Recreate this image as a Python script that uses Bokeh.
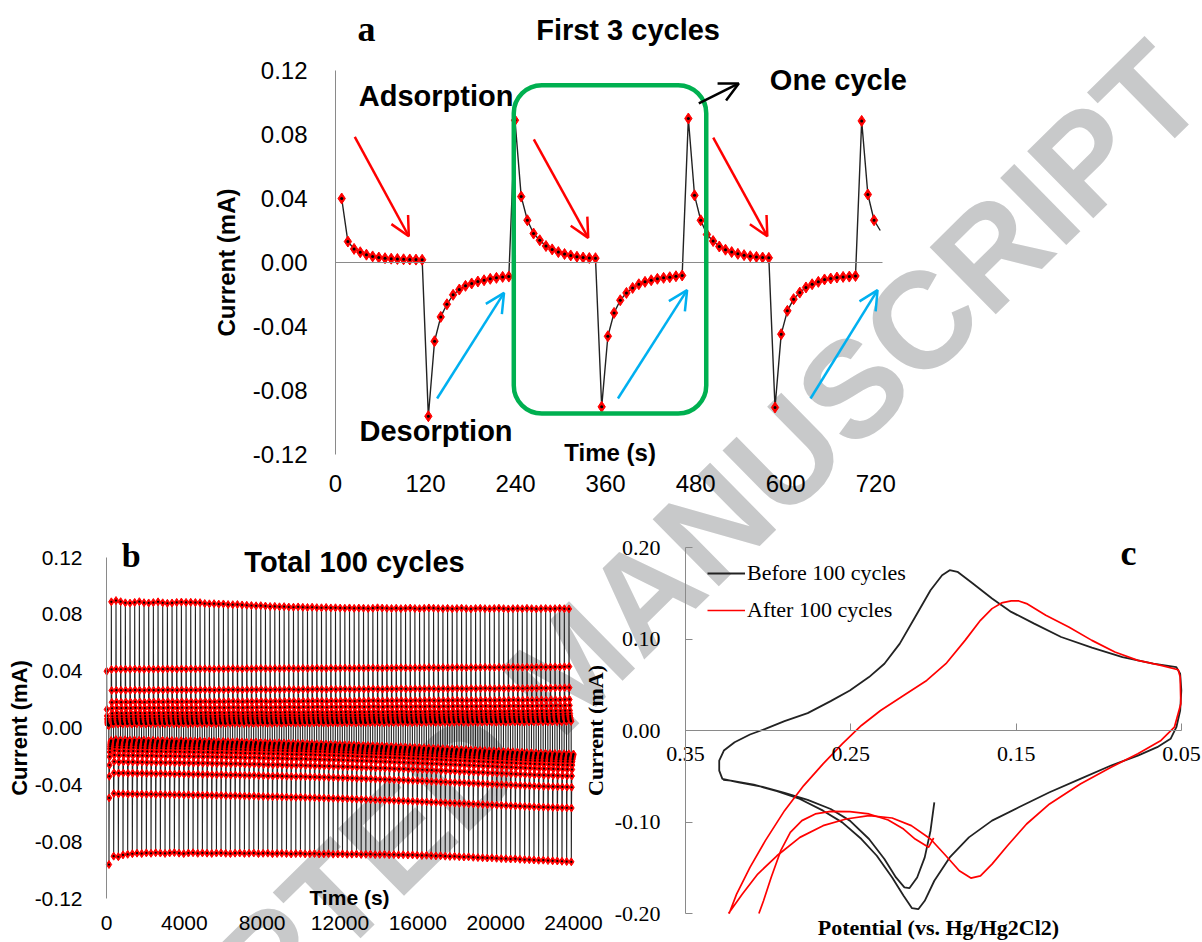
from bokeh.plotting import figure
from bokeh.models import (Range1d, FixedTicker, NumeralTickFormatter, Label, LinearAxis,
                          Arrow, OpenHead, BoxAnnotation, Legend, LegendItem)
from bokeh.embed import file_html
from bokeh.resources import INLINE

# ===================== DATA =====================
# ---- Panel a: first 3 cycles (current, mA), one reading every A_DT seconds ----
A_DT = 8.25
A_ADS_1 = [0.0400, 0.0131, 0.0085, 0.0064, 0.0049, 0.0038, 0.0031, 0.0027, 0.0024, 0.0022, 0.0020, 0.0019, 0.0018, 0.0017]
A_DES_1 = [-0.0961, -0.0492, -0.0340, -0.0261, -0.0202, -0.0169, -0.0146, -0.0131, -0.0119, -0.0111, -0.0102, -0.0096, -0.0090, -0.0088]
A_ADS_2 = [0.0889, 0.0412, 0.0264, 0.0181, 0.0139, 0.0103, 0.0082, 0.0065, 0.0053, 0.0044, 0.0036, 0.0031, 0.0028, 0.0027]
A_DES_2 = [-0.0902, -0.0461, -0.0315, -0.0236, -0.0190, -0.0159, -0.0136, -0.0121, -0.0111, -0.0102, -0.0096, -0.0092, -0.0086, -0.0081]
A_ADS_3 = [0.0900, 0.0420, 0.0264, 0.0175, 0.0134, 0.0100, 0.0080, 0.0065, 0.0054, 0.0046, 0.0039, 0.0035, 0.0031, 0.0029]
A_DES_3 = [-0.0906, -0.0448, -0.0302, -0.0229, -0.0188, -0.0156, -0.0136, -0.0121, -0.0106, -0.0100, -0.0094, -0.0090, -0.0088, -0.0084]
A_ADS_4 = [0.0885, 0.0425, 0.0264, 0.0200]
A_XTICKS = [0, 120, 240, 360, 480, 600, 720]
A_XTICK_LABELS = ["0", "120", "240", "360", "480", "600", "720"]
AB_YTICKS = [0.12, 0.08, 0.04, 0.0, -0.04, -0.08, -0.12]
AB_YTICK_LABELS = ["0.12", "0.08", "0.04", "0.00", "-0.04", "-0.08", "-0.12"]

# ---- Panel b: 100 cycles; per-cycle levels ----
B_DT = 240 / 28
B_CYCLES = 100
# adsorption peak of each cycle (the record starts just after the first peak)
B_PEAK = [None,
          0.0888, 0.0897, 0.0889, 0.0881, 0.0879, 0.0884, 0.0889, 0.0882, 0.0880, 0.0883,
          0.0888, 0.0881, 0.0878, 0.0880, 0.0884, 0.0886, 0.0884, 0.0885, 0.0883, 0.0882,
          0.0876, 0.0874, 0.0875, 0.0872, 0.0873, 0.0869, 0.0868, 0.0869, 0.0866, 0.0864,
          0.0862, 0.0860, 0.0861, 0.0858, 0.0855, 0.0856, 0.0853, 0.0854, 0.0851, 0.0850,
          0.0852, 0.0849, 0.0848, 0.0850, 0.0847, 0.0846, 0.0848, 0.0845, 0.0846, 0.0844,
          0.0843, 0.0845, 0.0842, 0.0844, 0.0843, 0.0841, 0.0843, 0.0846, 0.0844, 0.0842,
          0.0841, 0.0843, 0.0840, 0.0842, 0.0844, 0.0841, 0.0840, 0.0842, 0.0845, 0.0843,
          0.0841, 0.0840, 0.0842, 0.0839, 0.0841, 0.0843, 0.0840, 0.0838, 0.0841, 0.0842,
          0.0840, 0.0839, 0.0841, 0.0843, 0.0840, 0.0838, 0.0840, 0.0841, 0.0839, 0.0842,
          0.0840, 0.0838, 0.0840, 0.0841, 0.0839, 0.0840, 0.0842, 0.0839, 0.0838]
# last adsorption reading of each cycle
B_FLOOR = [0.0017, 0.0027, 0.0029, 0.0028, 0.0029, 0.0028, 0.0030, 0.0029, 0.0028, 0.0030,
           0.0029, 0.0030, 0.0029, 0.0031, 0.0030, 0.0029, 0.0031, 0.0030, 0.0031, 0.0030,
           0.0031, 0.0032, 0.0031, 0.0030, 0.0032, 0.0031, 0.0032, 0.0033, 0.0032, 0.0031,
           0.0033, 0.0032, 0.0033, 0.0034, 0.0033, 0.0032, 0.0034, 0.0033, 0.0034, 0.0035,
           0.0034, 0.0033, 0.0035, 0.0034, 0.0035, 0.0036, 0.0035, 0.0034, 0.0036, 0.0035,
           0.0036, 0.0037, 0.0036, 0.0035, 0.0037, 0.0036, 0.0037, 0.0038, 0.0037, 0.0036,
           0.0038, 0.0037, 0.0038, 0.0039, 0.0038, 0.0037, 0.0039, 0.0038, 0.0039, 0.0040,
           0.0039, 0.0038, 0.0040, 0.0039, 0.0040, 0.0041, 0.0040, 0.0039, 0.0041, 0.0040,
           0.0041, 0.0042, 0.0041, 0.0040, 0.0042, 0.0041, 0.0042, 0.0043, 0.0042, 0.0041,
           0.0043, 0.0042, 0.0043, 0.0044, 0.0043, 0.0044, 0.0045, 0.0044, 0.0046, 0.0047]
# desorption minimum of each cycle
B_MIN = [-0.0961, -0.0902, -0.0906, -0.0893, -0.0889, -0.0885, -0.0881, -0.0884, -0.0879, -0.0882,
         -0.0878, -0.0880, -0.0883, -0.0879, -0.0877, -0.0881, -0.0884, -0.0880, -0.0878, -0.0882,
         -0.0879, -0.0881, -0.0883, -0.0880, -0.0879, -0.0882, -0.0884, -0.0881, -0.0880, -0.0883,
         -0.0882, -0.0880, -0.0884, -0.0882, -0.0881, -0.0885, -0.0883, -0.0882, -0.0884, -0.0886,
         -0.0884, -0.0883, -0.0886, -0.0885, -0.0884, -0.0887, -0.0886, -0.0885, -0.0888, -0.0887,
         -0.0886, -0.0889, -0.0888, -0.0887, -0.0890, -0.0889, -0.0888, -0.0891, -0.0890, -0.0889,
         -0.0892, -0.0891, -0.0893, -0.0892, -0.0894, -0.0893, -0.0895, -0.0897, -0.0896, -0.0898,
         -0.0900, -0.0899, -0.0902, -0.0904, -0.0903, -0.0906, -0.0908, -0.0907, -0.0910, -0.0912,
         -0.0913, -0.0915, -0.0914, -0.0917, -0.0919, -0.0920, -0.0922, -0.0921, -0.0924, -0.0926,
         -0.0927, -0.0929, -0.0931, -0.0930, -0.0933, -0.0935, -0.0936, -0.0938, -0.0940, -0.0942]
# last desorption reading of each cycle
B_TAIL = [-0.0088, -0.0081, -0.0084, -0.0083, -0.0085, -0.0084, -0.0086, -0.0085, -0.0087, -0.0086,
          -0.0088, -0.0087, -0.0089, -0.0088, -0.0090, -0.0089, -0.0091, -0.0090, -0.0092, -0.0091,
          -0.0093, -0.0092, -0.0094, -0.0095, -0.0094, -0.0096, -0.0097, -0.0096, -0.0098, -0.0099,
          -0.0100, -0.0099, -0.0101, -0.0102, -0.0103, -0.0104, -0.0103, -0.0105, -0.0106, -0.0107,
          -0.0108, -0.0107, -0.0109, -0.0110, -0.0111, -0.0112, -0.0113, -0.0114, -0.0115, -0.0116,
          -0.0117, -0.0118, -0.0119, -0.0121, -0.0122, -0.0123, -0.0124, -0.0126, -0.0127, -0.0128,
          -0.0129, -0.0131, -0.0132, -0.0133, -0.0135, -0.0136, -0.0137, -0.0139, -0.0140, -0.0142,
          -0.0143, -0.0145, -0.0146, -0.0148, -0.0149, -0.0151, -0.0152, -0.0154, -0.0155, -0.0157,
          -0.0158, -0.0160, -0.0161, -0.0163, -0.0164, -0.0166, -0.0167, -0.0169, -0.0170, -0.0172,
          -0.0173, -0.0175, -0.0176, -0.0177, -0.0178, -0.0179, -0.0180, -0.0181, -0.0182, -0.0183]
B_XTICKS = [0, 4000, 8000, 12000, 16000, 20000, 24000]
B_XTICK_LABELS = ["0", "4000", "8000", "12000", "16000", "20000", "24000"]

# ---- Panel c: cyclic voltammograms (potential V, current mA) ----
C_BEFORE_E = [0.1995, 0.2018, 0.2053, 0.2099, 0.2146, 0.2176, 0.2227, 0.2297, 0.2390, 0.2506, 0.2622, 0.2761,
              0.2901, 0.3040, 0.3179, 0.3277, 0.3296, 0.3296, 0.3268, 0.3203, 0.3110, 0.3017, 0.2901, 0.2761,
              0.2622, 0.2506, 0.2390, 0.2297, 0.2204, 0.2111, 0.2018, 0.1948, 0.1902, 0.1855, 0.1762, 0.1646,
              0.1530, 0.1391, 0.1228, 0.1042, 0.0857, 0.0671, 0.0531, 0.0508, 0.0501, 0.0508, 0.0531, 0.0566,
              0.0647, 0.0764, 0.0926, 0.1112, 0.1298, 0.1484, 0.1646, 0.1786, 0.1902, 0.1995, 0.2053, 0.2092,
              0.2130, 0.2181, 0.2250, 0.2343, 0.2436, 0.2552, 0.2668, 0.2808, 0.2947, 0.3087, 0.3226, 0.3272]
C_BEFORE_I = [-0.0785, -0.1095, -0.1387, -0.1606, -0.1723, -0.1715, -0.1606, -0.1405, -0.1186, -0.0985, -0.0858, -0.0759,
              -0.0682, -0.0613, -0.0566, -0.0529, -0.0438, -0.0328, -0.0219, -0.0128, -0.0044, 0.0018, 0.0102, 0.0190,
              0.0321, 0.0438, 0.0584, 0.0730, 0.0949, 0.1241, 0.1533, 0.1697, 0.1752, 0.1734, 0.1606, 0.1442,
              0.1296, 0.1168, 0.1022, 0.0905, 0.0803, 0.0730, 0.0693, 0.0620, 0.0438, 0.0219, 0.0036, -0.0091,
              -0.0182, -0.0274, -0.0383, -0.0529, -0.0675, -0.0839, -0.0985, -0.1168, -0.1387, -0.1642, -0.1861, -0.1953,
              -0.1942, -0.1807, -0.1606, -0.1369, -0.1186, -0.1004, -0.0876, -0.0748, -0.0664, -0.0591, -0.0547, -0.0540]
C_AFTER1_E = [0.1999, 0.2030, 0.2111, 0.2181, 0.2274, 0.2390, 0.2506, 0.2622, 0.2715, 0.2796, 0.2866, 0.2924,
              0.2982, 0.3028, 0.3056]
C_AFTER1_I = [-0.1175, -0.1277, -0.1186, -0.1077, -0.0978, -0.0912, -0.0887, -0.0883, -0.0912, -0.0985, -0.1113, -0.1314,
              -0.1606, -0.1861, -0.2000]
C_AFTER2_E = [0.3240, 0.3156, 0.3063, 0.2947, 0.2808, 0.2668, 0.2529, 0.2390, 0.2250, 0.2134, 0.2018,
              0.1925, 0.1844, 0.1774, 0.1716, 0.1646, 0.1553, 0.1437, 0.1298, 0.1112, 0.0926, 0.0764, 0.0624,
              0.0543, 0.0504, 0.0508, 0.0520, 0.0624, 0.0764, 0.0903, 0.1042, 0.1182, 0.1321, 0.1437, 0.1484,
              0.1530, 0.1588, 0.1646, 0.1716, 0.1809, 0.1925, 0.2041, 0.2181, 0.2320, 0.2436, 0.2552, 0.2668,
              0.2785, 0.2901, 0.3017, 0.3110, 0.3191, 0.3236]
C_AFTER2_I = [-0.2000, -0.1788, -0.1569, -0.1369, -0.1168, -0.1040, -0.0967, -0.0931, -0.0956, -0.1040, -0.1186,
              -0.1369, -0.1533, -0.1613, -0.1588, -0.1460, -0.1259, -0.1022, -0.0803, -0.0584, -0.0401, -0.0255, -0.0109,
              0.0036, 0.0292, 0.0584, 0.0664, 0.0712, 0.0766, 0.0858, 0.0985, 0.1131, 0.1259, 0.1387, 0.1416,
              0.1416, 0.1394, 0.1332, 0.1204, 0.0985, 0.0730, 0.0547, 0.0383, 0.0219, 0.0055, -0.0146, -0.0365,
              -0.0602, -0.0876, -0.1204, -0.1496, -0.1788, -0.2000]
C_XTICKS = [0.35, 0.25, 0.15, 0.05]
C_XTICK_LABELS = ["0.35", "0.25", "0.15", "0.05"]
C_YTICKS = [0.20, 0.10, 0.0, -0.10, -0.20]
C_YTICK_LABELS = ["0.20", "0.10", "0.00", "-0.10", "-0.20"]
C_SERIES = ["Before 100 cycles", "After 100 cycles"]

# ===================== STYLE / LAYOUT =====================
SANS = "Liberation Sans"
SERIF = "Liberation Serif"
AXIS_GRAY = "#8a8a8a"
LINE_BLACK = "#222222"
RED = "#ff0000"
BLUE = "#00b0f0"
GREEN = "#00b050"
WM_COLOR = "#c8c9ca"

PAGE_W, PAGE_H = 1202, 942
# plot boxes in page pixels (left, right, top, bottom) and the data they span
A_BOX, A_XR, A_YR = (335, 882, 70, 454), (0, 729), (-0.12, 0.12)
B_BOX, B_XR, B_YR = (106, 580, 557, 898), (0, 24360), (-0.12, 0.12)
C_BOX, C_XR, C_YR = (685, 1181, 547, 913), (0.35, 0.05), (-0.20, 0.20)
BOXES = {"a": (A_BOX, A_XR, A_YR), "b": (B_BOX, B_XR, B_YR), "c": (C_BOX, C_XR, C_YR)}
BASELINE_LIFT = 0.33   # em; aligns Bokeh's text baseline with the reference

# watermark (page pixels)
WM_X, WM_Y, WM_ANGLE, WM_SIZE = 570, 665, 44.5, 137


def page_ranges(box, xr, yr):
    """Ranges that place the data span xr/yr exactly on box, for a frame covering the page."""
    l, r, t, b = box
    sx = (xr[1] - xr[0]) / (r - l)
    sy = (yr[1] - yr[0]) / (b - t)
    x_start = xr[0] + (0 - l) * sx
    x_end = xr[0] + (PAGE_W - l) * sx
    y_end = yr[1] + t * sy
    y_start = yr[1] - (PAGE_H - t) * sy
    return Range1d(x_start, x_end), Range1d(y_start, y_end)


p = figure(width=PAGE_W, height=PAGE_H, x_range=Range1d(0, PAGE_W), y_range=Range1d(PAGE_H, 0),
           output_backend="svg", toolbar_location=None, x_axis_location=None, y_axis_location=None,
           min_border=0, min_border_left=0, min_border_right=0, min_border_top=0, min_border_bottom=0)
p.outline_line_color = None
p.xgrid.visible = False
p.ygrid.visible = False
p.background_fill_color = "white"
p.border_fill_color = "white"

for key, (box, xr, yr) in BOXES.items():
    rx, ry = page_ranges(box, xr, yr)
    p.extra_x_ranges[key + "x"] = rx
    p.extra_y_ranges[key + "y"] = ry

# watermark behind everything
p.add_layout(Label(x=WM_X, y=WM_Y, text="ACCEPTED MANUSCRIPT", angle=WM_ANGLE, angle_units="deg",
                   text_align="center", text_baseline="middle", text_font=SANS, text_font_style="bold",
                   text_font_size=f"{WM_SIZE}px", text_color=WM_COLOR, level="underlay"))


def axis(panel, side, loc, bounds, ticks, labels, font, size, standoff, line=True, tick_in=0,
         title=None, title_size=None, title_standoff=0, fmt=None):
    ax = LinearAxis(x_range_name=panel + "x", y_range_name=panel + "y", fixed_location=loc, bounds=bounds)
    ax.ticker = FixedTicker(ticks=ticks)
    if fmt:
        ax.formatter = NumeralTickFormatter(format=fmt)
    if labels:
        ax.major_label_overrides = {t: s for t, s in zip(ticks, labels)}
    ax.axis_line_color = AXIS_GRAY if line else None
    ax.axis_line_width = 1
    ax.major_tick_out = 0
    ax.major_tick_in = tick_in
    ax.major_tick_line_color = AXIS_GRAY if tick_in else None
    ax.minor_tick_line_color = None
    ax.major_label_standoff = standoff
    ax.major_label_text_font = font
    ax.major_label_text_font_size = f"{size}px"
    ax.major_label_text_color = "black"
    if title:
        ax.axis_label = title
        ax.axis_label_text_font = font
        ax.axis_label_text_font_style = "bold"
        ax.axis_label_text_font_size = f"{title_size}px"
        ax.axis_label_text_color = "black"
        ax.axis_label_standoff = title_standoff
    p.add_layout(ax, side)
    return ax


def text(panel, x, y, s, size, font=SANS, bold=True, align="left", lift=BASELINE_LIFT):
    box, xr, yr = BOXES[panel]
    data_per_px = (yr[1] - yr[0]) / (box[3] - box[2])
    p.add_layout(Label(x=x, y=y + lift * size * data_per_px, text=s,
                       x_range_name=panel + "x", y_range_name=panel + "y",
                       text_font=font, text_font_size=f"{size}px",
                       text_font_style="bold" if bold else "normal", text_color="black",
                       text_align=align, text_baseline="alphabetic"))


# ===================== PANEL A =====================
axis("a", "below", 0, A_XR, [], None, SANS, 24, 0)                     # zero line
axis("a", "below", -0.12, (0, 720), A_XTICKS, A_XTICK_LABELS, SANS, 24, 20, line=False)
axis("a", "left", 0, (-0.12, 0.12), AB_YTICKS, AB_YTICK_LABELS, SANS, 24, 28,
     title="Current (mA)", title_size=24, title_standoff=10, fmt="0.00")

a_vals = A_ADS_1 + A_DES_1 + A_ADS_2 + A_DES_2 + A_ADS_3 + A_DES_3 + A_ADS_4
a_t = [(i + 1) * A_DT for i in range(len(a_vals))]
p.line(a_t, a_vals, line_color=LINE_BLACK, line_width=1.4, x_range_name="ax", y_range_name="ay")
p.scatter(a_t[:-1], a_vals[:-1], marker="diamond", size=11, fill_color=RED, line_color=RED,
          x_range_name="ax", y_range_name="ay")
p.scatter(a_t[:-1], a_vals[:-1], marker="circle", size=3, fill_color="black", line_color=None,
          x_range_name="ax", y_range_name="ay")

p.add_layout(BoxAnnotation(left=237.6, right=494.1, bottom=-0.0944, top=0.1108, fill_alpha=0,
                           fill_color=None, line_color=GREEN, line_alpha=1, line_width=4.5, border_radius=28,
                           x_range_name="ax", y_range_name="ay"))
for (x0, y0, x1, y1) in [(25.7, 0.0785, 97.7, 0.0164), (264.3, 0.0769, 336.8, 0.0154),
                         (503.4, 0.0781, 575.5, 0.0164)]:
    p.add_layout(Arrow(x_start=x0, y_start=y0, x_end=x1, y_end=y1, line_color=RED, line_width=2.5,
                       end=OpenHead(size=19, line_color=RED, line_width=2.5),
                       x_range_name="ax", y_range_name="ay"))
for (x0, y0, x1, y1) in [(135.4, -0.0850, 224.6, -0.0190), (376.4, -0.0850, 468.6, -0.0173),
                         (633.1, -0.0850, 722.4, -0.0173)]:
    p.add_layout(Arrow(x_start=x0, y_start=y0, x_end=x1, y_end=y1, line_color=BLUE, line_width=2.5,
                       end=OpenHead(size=19, line_color=BLUE, line_width=2.5),
                       x_range_name="ax", y_range_name="ay"))
p.add_layout(Arrow(x_start=484.2, y_start=0.0994, x_end=537.5, y_end=0.1119, line_color="black",
                   line_width=2.5, end=OpenHead(size=19, line_color="black", line_width=2.5),
                   x_range_name="ax", y_range_name="ay"))

text("a", 41.3, 0.1383, "a", 36, font=SERIF, align="center")
text("a", 389.9, 0.1394, "First 3 cycles", 29, align="center")
text("a", 31.1, 0.0983, "Adsorption", 29)
text("a", 32.0, -0.1111, "Desorption", 29)
text("a", 578.9, 0.1081, "One cycle", 29)
text("a", 366.0, -0.1236, "Time (s)", 24, align="center")

# ===================== PANEL B =====================
axis("b", "below", -0.12, (0, 24000), B_XTICKS, B_XTICK_LABELS, SANS, 21, 17, line=False)
axis("b", "left", 0, (-0.12, 0.12), AB_YTICKS, AB_YTICK_LABELS, SANS, 21, 24,
     title="Current (mA)", title_size=22, title_standoff=0, fmt="0.00")
ads_ref = A_ADS_2[1:]
des_ref = A_DES_2[1:]
b_vals = []
for k in range(B_CYCLES):
    if k == 0:
        ads, des = A_ADS_1, A_DES_1
    else:
        ads = [B_PEAK[k]] + [v + (B_FLOOR[k] - ads_ref[-1]) for v in ads_ref]
        des = [B_MIN[k]] + [v + (B_TAIL[k] - des_ref[-1]) for v in des_ref]
    b_vals += ads + des
b_t = [(i + 1) * B_DT for i in range(len(b_vals))]
p.line(b_t, b_vals, line_color=LINE_BLACK, line_width=1.1, x_range_name="bx", y_range_name="by")
p.scatter(b_t, b_vals, marker="diamond", size=8, fill_color=RED, line_color=RED,
          x_range_name="bx", y_range_name="by")
p.scatter(b_t, b_vals, marker="circle", size=2.2, fill_color="black", line_color=None,
          x_range_name="bx", y_range_name="by")
text("b", 1269, 0.1138, "b", 34, font=SERIF, align="center")
text("b", 12745, 0.1103, "Total 100 cycles", 29, align="center")
text("b", 12488, -0.1243, "Time (s)", 21, align="center")

# ===================== PANEL C =====================
axis("c", "below", 0, (0.05, 0.35), C_XTICKS, C_XTICK_LABELS, SERIF, 22, 16, tick_in=7, fmt="0.00")
axis("c", "left", 0.35, (-0.20, 0.20), C_YTICKS, C_YTICK_LABELS, SERIF, 22, 25, tick_in=7,
     title="Current (mA)", title_size=22, title_standoff=4, fmt="0.00")
r_before = p.line(C_BEFORE_E, C_BEFORE_I, line_color=LINE_BLACK, line_width=1.8, x_range_name="cx", y_range_name="cy")
r_after1 = p.line(C_AFTER1_E, C_AFTER1_I, line_color=RED, line_width=1.7, x_range_name="cx", y_range_name="cy")
r_after2 = p.line(C_AFTER2_E, C_AFTER2_I, line_color=RED, line_width=1.7, x_range_name="cx", y_range_name="cy")
legend = Legend(items=[LegendItem(label=C_SERIES[0], renderers=[r_before]),
                       LegendItem(label=C_SERIES[1], renderers=[r_after1])],
                location=(707, 319), orientation="vertical", glyph_width=38, glyph_height=26,
                label_standoff=2, spacing=11, padding=0, margin=0, border_line_color=None,
                background_fill_alpha=0, label_text_font=SERIF, label_text_font_size="22px",
                label_text_color="black")
p.add_layout(legend)
text("c", 0.0820, 0.1807, "c", 36, font=SERIF, align="center")
text("c", 0.197, -0.2271, "Potential (vs. Hg/Hg2Cl2)", 22, font=SERIF, align="center", lift=0.47)

open("out.html", "w").write(file_html(p, INLINE))
